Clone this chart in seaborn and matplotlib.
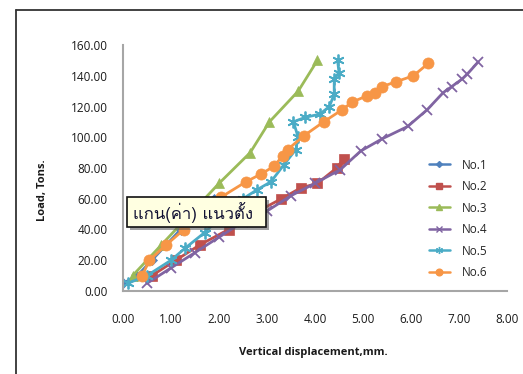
import matplotlib
matplotlib.use("Agg")
import matplotlib.pyplot as plt
from matplotlib.font_manager import fontManager
from matplotlib.ft2font import FT2Font
from matplotlib.lines import Line2D
from matplotlib.patches import Rectangle
import pandas as pd
import seaborn as sns

# Load–displacement readings for each test pile
no1_x = [0.0, 0.3, 0.6, 0.9, 1.2, 1.5, 1.9]
no1_y = [5, 10, 20, 30, 40, 50, 60]
no2_x = [0.6, 1.1, 1.6, 2.2, 2.7, 3.3, 3.7, 4.05, 4.45, 4.6]
no2_y = [10, 20, 30, 40, 50, 60, 67, 70, 80, 86]
no3_x = [0.2, 0.8, 1.4, 2.0, 2.65, 3.05, 3.65, 4.05]
no3_y = [10, 30, 50, 70, 90, 110, 130, 150]
no4_x = [0.5, 1.0, 1.5, 2.0, 2.5, 3.0, 3.5, 4.0, 4.53, 4.95, 5.4, 5.93,
         6.34, 6.67, 6.85, 7.07, 7.17, 7.4]
no4_y = [5, 15, 25, 35, 45, 52, 62, 70, 79, 91, 99, 107, 118, 129, 133,
         138, 141, 149]
no5_x = [0.1, 0.5, 1.0, 1.3, 1.7, 2.1, 2.5, 2.8, 3.08, 3.35, 3.6, 3.65,
         3.55, 3.8, 4.1, 4.3, 4.4, 4.4, 4.5, 4.47]
no5_y = [5, 10, 20, 28, 38, 50, 60, 66, 71, 82, 92, 100, 110, 113, 115,
         120, 128, 138, 142, 150]
no6_x = [0.4, 0.55, 0.9, 1.27, 1.6, 2.04, 2.56, 2.87, 3.14, 3.33, 3.43,
         3.77, 4.18, 4.57, 4.78, 5.09, 5.26, 5.4, 5.68, 6.05, 6.36]
no6_y = [10, 20, 30, 40, 50, 61, 71, 76, 81, 88, 92, 101, 110, 118, 123,
         127, 129, 133, 136, 140, 148]

series_names = ["No.1", "No.2", "No.3", "No.4", "No.5", "No.6"]
x_ticks = [0, 1, 2, 3, 4, 5, 6, 7, 8]
y_ticks = [0, 20, 40, 60, 80, 100, 120, 140, 160]
x_label = "Vertical displacement,mm."
y_label = "Load, Tons."
callout_text = "แกน(ค่า) แนวตั้ง"

series_x = [no1_x, no2_x, no3_x, no4_x, no5_x, no6_x]
series_y = [no1_y, no2_y, no3_y, no4_y, no5_y, no6_y]

frames = []
for name, xs, ys in zip(series_names, series_x, series_y):
    frames.append(pd.DataFrame({"series": name, "disp": xs, "load": ys}))
df = pd.concat(frames, ignore_index=True)

colors = ["#4F81BD", "#C0504D", "#9BBB59", "#8064A2", "#4BACC6", "#F79646"]
asterisk = (6, 2, 0)
markers = ["D", "s", "^", "x", asterisk, "o"]
msizes = [5, 7.5, 7, 7.5, 8.5, 8]


def thai_capable_font():
    for f in fontManager.ttflist:
        try:
            if 0x0E01 in FT2Font(f.fname).get_charmap():
                return f.name
        except Exception:
            continue
    return "DejaVu Sans"


sns.set_theme(style="white")
thai_font = thai_capable_font()
plt.rcParams["font.family"] = ["Open Sans", "DejaVu Sans"]

fig = plt.figure(figsize=(5.23, 3.74), dpi=100)
ax = fig.add_axes([123 / 523, 1 - 291 / 374, 384 / 523, 246 / 374])

for name, col, mk, ms in zip(series_names, colors, markers, msizes):
    sub = df[df["series"] == name]
    sns.lineplot(data=sub, x="disp", y="load", sort=False, estimator=None,
                 color=col, marker=mk, markersize=ms, linewidth=2.0,
                 markeredgecolor=col,
                 markeredgewidth=1.3 if mk in ("x", asterisk) else 0.5,
                 ax=ax, legend=False)

ax.set_xlim(0, 8)
ax.set_ylim(0, 160)
ax.set_xticks(x_ticks)
ax.set_yticks(y_ticks)
ax.set_xticklabels([f"{v:.2f}" for v in x_ticks], fontsize=8.5, color="#1a1a1a")
ax.set_yticklabels([f"{v:.2f}" for v in y_ticks], fontsize=8.5, color="#1a1a1a")
ax.tick_params(axis="x", length=0, pad=16)
ax.tick_params(axis="y", length=0, pad=11)
ax.set_xlabel("")
ax.set_ylabel("")
for side in ("top", "right"):
    ax.spines[side].set_visible(False)
for side in ("left", "bottom"):
    ax.spines[side].set_color("#A6A6A6")
    ax.spines[side].set_linewidth(1.5)

fig.text(313 / 523, 1 - 352 / 374, x_label, ha="center", va="center",
         fontsize=8, fontweight="bold", color="#1a1a1a")
fig.text(43 / 523, 1 - 190 / 374, y_label, ha="center", va="center",
         rotation=90, fontsize=8, fontweight="bold", color="#1a1a1a")

# legend
handles = [Line2D([], [], color=c, marker=m, markersize=s * 0.6, linewidth=1.8,
                  markeredgecolor=c)
           for c, m, s in zip(colors, markers, msizes)]
fig.legend(handles, series_names, loc="upper left",
           bbox_to_anchor=(418 / 523, 1 - 148 / 374), frameon=False,
           fontsize=8.5, handlelength=1.8, handletextpad=1.0,
           labelspacing=0.72)

# callout box over the vertical axis
shadow = Rectangle((130 / 523, 1 - 230 / 374), 139 / 523, 30 / 374,
                   transform=fig.transFigure, facecolor="#555555",
                   edgecolor="none", alpha=0.55, zorder=9)
box = Rectangle((127 / 523, 1 - 227 / 374), 139 / 523, 30 / 374,
                transform=fig.transFigure, facecolor="#FFFFE1",
                edgecolor="#111111", linewidth=1.2, zorder=10)
fig.add_artist(shadow)
fig.add_artist(box)
fig.text(193 / 523, 1 - 213 / 374, callout_text, ha="center", va="center",
         fontsize=12, family=[thai_font, "DejaVu Sans"], color="#111133",
         zorder=11)

# outer frame edges
fig.add_artist(Line2D([16 / 523, 1], [1 - 10 / 374, 1 - 10 / 374],
                      transform=fig.transFigure, color="#333333", linewidth=1.3))
fig.add_artist(Line2D([16 / 523, 16 / 523], [0, 1 - 10 / 374],
                      transform=fig.transFigure, color="#333333", linewidth=1.3))

fig.savefig("out.png", dpi=100)
